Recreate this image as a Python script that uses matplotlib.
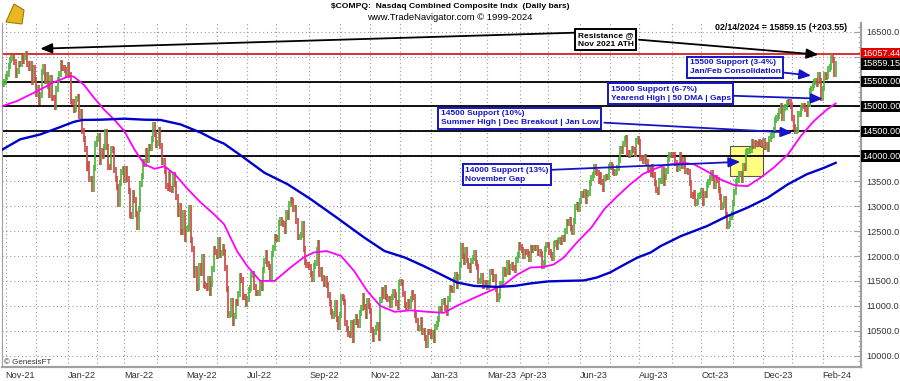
import matplotlib
matplotlib.use("Agg")
import matplotlib.pyplot as plt
from matplotlib.patches import Rectangle, Polygon
import numpy as np

plt.rcParams['font.family'] = ['Liberation Sans', 'DejaVu Sans']

# daily closes, Oct 28 2021 .. Feb 14 2024
closes_2021 = [
    15448, 15498,
    # Nov
    15595, 15650, 15812, 15940, 15971, 15982, 15886, 15623, 15704, 15860, 15853,
    15974, 15922, 15993, 16057, 15854, 15775, 15845, 15491, 15782, 15538,
    # Dec
    15254, 15381, 15085, 15225, 15686, 15786, 15517, 15630, 15413, 15237, 15566,
    15180, 15169, 14980, 15341, 15522, 15653, 15871, 15781, 15766, 15741, 15645,
]
closes_2022 = [
    # Jan
    15833, 15623, 15100, 15081, 14936, 14943, 15153, 15188, 14807, 14894,
    14507, 14341, 14155, 13769, 13856, 13540, 13542, 13353, 13771, 14240,
    # Feb
    14346, 14417, 13879, 14098, 14015, 14195, 14490, 14185, 13791, 13790,
    14139, 14124, 13716, 13548, 13381, 13038, 13474, 13695, 13751,
    # Mar
    13533, 13752, 13538, 13313, 12830, 12795, 13256, 13130, 12843, 12581, 12949, 13437,
    13615, 13894, 13838, 14109, 13923, 14191, 14169, 14354, 14620, 14442, 14221,
    # Apr
    14261, 14532, 14204, 13888, 13897, 13711, 13411, 13372, 13644, 13351,
    13332, 13619, 13453, 13175, 12839, 13005, 12491, 12489, 12872, 12335,
    # May
    12536, 12564, 12965, 12318, 12145, 11623, 11738, 11364, 11371, 11805, 11663,
    11985, 11418, 11389, 11355, 11535, 11265, 11435, 11741, 12131, 12081,
    # Jun
    11994, 12317, 12013, 12061, 12175, 12086, 11755, 11340, 10809, 10829, 11099,
    10646, 10798, 11069, 11053, 11232, 11608, 11525, 11182, 11178, 11029,
    # Jul
    11128, 11322, 11362, 11621, 11635, 11373, 11265, 11248, 11252, 11452,
    11360, 11713, 11898, 12060, 11834, 11782, 11563, 12033, 12163, 12391,
    # Aug
    12369, 12349, 12668, 12721, 12657, 12645, 12493, 12855, 12779, 13047, 13128, 13103,
    12938, 12966, 12706, 12381, 12381, 12431, 12640, 12142, 11883, 11817, 11816,
    # Sep
    11785, 11631, 11544, 11792, 11862, 12112, 12266, 11634, 11720, 11552, 11448,
    11535, 11425, 11220, 11066, 10868, 10802, 10829, 11051, 10737, 10576,
    # Oct
    10815, 11176, 11148, 11073, 10652, 10542, 10426, 10418, 10649, 10321, 10676,
    10773, 10680, 10615, 10860, 10953, 11199, 10971, 10793, 11102, 10988,
    # Nov
    10890, 10524, 10343, 10476, 10565, 10617, 10354, 11114, 11324, 11196, 11359,
    11184, 11145, 11147, 11025, 11175, 11286, 11226, 11050, 10984, 11468,
    # Dec
    11482, 11462, 11240, 11015, 10959, 11082, 11005, 11144, 11256, 11171, 10811,
    10706, 10547, 10547, 10710, 10477, 10498, 10354, 10214, 10478, 10466,
]
closes_2023 = [
    # Jan
    10386, 10459, 10305, 10570, 10636, 10743, 10932, 10931, 11079, 11096,
    10958, 10852, 11141, 11365, 11334, 11313, 11512, 11622, 11394, 11585,
    # Feb
    11816, 12201, 12007, 11888, 12114, 11910, 11790, 11718, 11892, 11960,
    12070, 11856, 11787, 11492, 11507, 11591, 11395, 11466, 11456,
    # Mar
    11379, 11463, 11689, 11676, 11531, 11577, 11338, 11139, 11189, 11429, 11434, 11718,
    11631, 11675, 11861, 11670, 11788, 11824, 11768, 11716, 11926, 12014, 12222,
    # Apr
    12190, 12126, 11996, 12088, 12084, 12032, 11930, 12167, 12124, 12158,
    12154, 12157, 12060, 12073, 12037, 11800, 11854, 12143, 12227,
    # May
    12213, 12081, 12025, 11966, 12236, 12256, 12180, 12306, 12329, 12285, 12366,
    12344, 12500, 12688, 12658, 12720, 12560, 12484, 12698, 12976, 13017, 12935,
    # Jun
    13101, 13241, 13230, 13276, 13105, 13239, 13259, 13461, 13573, 13626, 13783,
    13689, 13667, 13503, 13631, 13492, 13336, 13556, 13592, 13591, 13788,
    # Jul
    13817, 13792, 13679, 13661, 13685, 13760, 13918, 14138, 14113, 14244,
    14354, 14358, 14063, 14032, 14059, 14145, 14127, 14050, 14317, 14346,
    # Aug
    14283, 13973, 13960, 13909, 13994, 13884, 13723, 13737, 13645, 13789, 13632, 13474,
    13317, 13291, 13498, 13505, 13722, 13464, 13591, 13705, 13944, 14020, 14035,
    # Sep
    14031, 14020, 13872, 13749, 13762, 14021, 13918, 13813, 13926, 13708,
    13711, 13679, 13469, 13224, 13212, 13271, 13064, 13093, 13201, 13219,
    # Oct
    13307, 13059, 13236, 13220, 13431, 13485, 13562, 13660, 13574, 13407, 13567,
    13534, 13315, 13186, 12984, 13019, 13139, 12821, 12596, 12643, 12789, 12851,
    # Nov
    13061, 13294, 13478, 13518, 13640, 13650, 13522, 13798, 13768, 14094, 14104,
    14113, 14125, 14285, 14200, 14266, 14251, 14242, 14282, 14258, 14226,
    # Dec
    14306, 14185, 14230, 14147, 14340, 14404, 14432, 14533, 14734, 14762,
    14814, 14905, 15003, 14778, 14964, 14993, 15075, 15100, 15096, 15011,
]
closes_2024 = [
    # Jan
    14766, 14592, 14510, 14524, 14843, 14858, 14970, 15004, 15003, 14945, 14856,
    15056, 15311, 15361, 15426, 15482, 15511, 15455, 15628, 15509, 15164,
    # Feb
    15361, 15629, 15598, 15609, 15756, 15794, 15990, 15942, 15656, 15859,
]

# 50-day (magenta) and 200-day (blue) averages, read at bar positions
ma50_x = [-2, 8, 22, 33, 44, 47, 54, 61, 68, 75, 82, 89, 96, 103, 110, 117, 126,
          135, 144, 151, 160, 167, 176, 186, 197, 206, 213, 222, 232, 241, 250,
          259, 269, 280, 292, 303, 312, 324, 335, 345, 354, 363, 372, 379, 386,
          395, 405, 414, 423, 432, 441, 448, 457, 469, 476, 485, 494, 504, 513,
          522, 531, 541, 550, 559, 568, 574]
ma50_y = [15010, 15110, 15310, 15480, 15610, 15600, 15440, 15180, 14940, 14740,
          14510, 14140, 13840, 13750, 13800, 13640, 13340, 13070, 12840, 12640,
          12100, 11800, 11500, 11500, 11770, 11970, 12070, 12100, 12000, 11700,
          11300, 11000, 10880, 10910, 10880, 10860, 11000, 11160, 11300, 11430,
          11630, 11770, 11780, 11830, 11970, 12270, 12570, 12940, 13200, 13440,
          13650, 13740, 13830, 13870, 13840, 13700, 13540, 13420, 13400, 13570,
          13770, 14040, 14410, 14710, 14940, 15060]
ma200_x = [-2, 10, 24, 38, 47, 53, 66, 82, 96, 107, 121, 135, 144, 151, 163, 179,
           195, 211, 229, 248, 262, 276, 289, 301, 312, 324, 340, 352, 363, 375,
           386, 400, 409, 418, 428, 437, 446, 453, 467, 485, 499, 513, 527, 541,
           554, 566, 574]
ma200_y = [14140, 14340, 14440, 14590, 14690, 14730, 14735, 14755, 14735, 14730,
           14640, 14475, 14340, 14255, 14010, 13670, 13440, 13140, 12770, 12370,
           12100, 11970, 11800, 11630, 11470, 11400, 11380, 11400, 11450, 11490,
           11500, 11510, 11570, 11670, 11830, 11970, 12070, 12200, 12400, 12600,
           12800, 12970, 13170, 13440, 13640, 13770, 13870]

# first trading day of each month (bar index), and the labelled ones
month_starts = [0, 21, 43, 63, 82, 105, 125, 146, 167, 187, 210, 231, 252, 273,
                294, 314, 333, 356, 375, 397, 418, 438, 461, 481, 503, 524, 544, 565]
tick_pos = [0, 43, 82, 125, 167, 210, 252, 294, 333, 356, 397, 438, 481, 524, 565]
tick_labels = ['Nov-21', 'Jan-22', 'Mar-22', 'May-22', 'Jul-22', 'Sep-22', 'Nov-22',
               'Jan-23', 'Mar-23', 'Apr-23', 'Jun-23', 'Aug-23', 'Oct-23', 'Dec-23', 'Feb-24']

support_levels = [15500, 15000, 14500, 14000]
ath_level = 16057.44
last_close = 15859.15

closes = np.array(closes_2021 + closes_2022 + closes_2023 + closes_2024, dtype=float)
bar_x = np.arange(len(closes)) - 2
prev = np.concatenate([[closes[0]], closes[:-1]])
lows = np.minimum(prev, closes) - 60
highs = np.maximum(prev, closes) + 60
up = closes >= prev

fig = plt.figure(figsize=(9, 3.81), dpi=100)
ax = fig.add_axes([2 / 900, 14 / 381, 859 / 900, 344 / 381])
ax.set_xlim(-2.5, 591.5)
ax.set_ylim(9773, 16675)

# grid
grid_kw = dict(color='#9a9a9a', lw=0.8, linestyle=(0, (1, 2.5)), zorder=0)
for m in month_starts:
    ax.axvline(m, **grid_kw)
for v in range(10000, 16501, 500):
    ax.axhline(v, **grid_kw)

# yellow gap box
ax.add_patch(Rectangle((500.7, 13610), 22.8, 605, facecolor='#ffff80',
                       edgecolor='#555555', lw=0.8, zorder=1))

# support / resistance lines
for lvl in support_levels:
    ax.axhline(lvl, color='black', lw=1.3, zorder=2)
ax.axhline(ath_level, color='#d42020', lw=1.3, zorder=2)

# price bars
ax.vlines(bar_x[up], lows[up], highs[up], color='#4fb540', lw=1.25, zorder=3)
ax.vlines(bar_x[~up], lows[~up], highs[~up], color='#d04a4a', lw=1.25, zorder=3)

# moving averages
ax.plot(ma50_x, ma50_y, color='#ff00ff', lw=1.3, zorder=4)
ax.plot(ma200_x, ma200_y, color='#0000cc', lw=1.7, zorder=4)

# annotation boxes
blue = '#1414c8'
notes = [
    (395.6, 16340, 'Resistance @\nNov 2021 ATH', 'black'),
    (473, 15787, '15500 Support (3-4%)\nJan/Feb Consolidation', blue),
    (418.4, 15255, '15000 Support (6-7%)\nYearend High | 50 DMA | Gaps', blue),
    (300.8, 14763, '14500 Support (10%)\nSummer High | Dec Breakout | Jan Low', blue),
    (318, 13628, '14000 Support (13%)\nNovember Gap', blue),
]
for x, y, txt, col in notes:
    ax.text(x, y, txt, ha='left', va='center', fontsize=6, fontweight='bold',
            color=col, linespacing=1.35, zorder=6,
            bbox=dict(boxstyle='square,pad=0.3', facecolor='white', edgecolor=col, lw=1.4))

arrows = [
    ((393, 16480), (24, 16160), 'black'),
    ((438, 16340), (562, 16040), 'black'),
    ((538, 15680), (557, 15620), blue),
    ((503, 15215), (565, 15155), blue),
    ((414, 14675), (544, 14475), blue),
    ((378, 13730), (508, 13890), blue),
]
for start, end, col in arrows:
    ax.annotate('', xy=end, xytext=start, zorder=5,
                arrowprops=dict(arrowstyle='-|>,head_length=0.7,head_width=0.3',
                                color=col, lw=1.3, shrinkA=0, shrinkB=0, mutation_scale=10))

# axes styling
ax.spines['top'].set_visible(False)
for side in ['left', 'bottom', 'right']:
    ax.spines[side].set_color('#a0a0a0')
ax.spines['right'].set_linewidth(1.6)
ax.spines['bottom'].set_linewidth(1.6)

ax.set_xticks(tick_pos)
ax.set_xticklabels(tick_labels, ha='left', fontsize=6.6, color='#333333')
ax.tick_params(axis='x', length=0, pad=3)

yt = list(range(10000, 16501, 500))
ax.yaxis.tick_right()
ax.set_yticks(yt)
ax.set_yticklabels(['%.1f' % v if (v < 14000 or v == 16500) else '' for v in yt],
                   fontsize=6.6, color='#333333')
ax.set_yticks(range(9800, 16700, 100), minor=True)
ax.tick_params(axis='y', which='major', direction='in', length=5, color='#a0a0a0', pad=4)
ax.tick_params(axis='y', which='minor', direction='in', length=2.5, color='#a0a0a0')

ytrans = ax.get_yaxis_transform()
ax.text(1.002, ath_level, '%.2f' % ath_level, transform=ytrans, fontsize=6.6, color='white',
        va='center', ha='left', clip_on=False,
        bbox=dict(boxstyle='square,pad=0.15', facecolor='#e00000', edgecolor='none'))
for v in [last_close] + support_levels:
    ax.text(1.002, v, '%.2f' % v, transform=ytrans, fontsize=6.6, color='white',
            va='center', ha='left', clip_on=False,
            bbox=dict(boxstyle='square,pad=0.15', facecolor='black', edgecolor='none'))

# header texts
fig.text(0.5, 1 - 7 / 381, '$COMPQ:  Nasdaq Combined Composite Indx  (Daily bars)',
         ha='center', va='center', fontsize=6.1, fontweight='bold')
fig.text(0.5, 1 - 18 / 381, 'www.TradeNavigator.com \u00a9 1999-2024',
         ha='center', va='center', fontsize=6.8)
fig.text(847 / 900, 1 - 28 / 381, '02/14/2024 = 15859.15 (+203.55)',
         ha='right', va='center', fontsize=6.4, fontweight='bold')
fig.text(4 / 900, 1 - 362 / 381, '\u00a9 GenesisFT', ha='left', va='center', fontsize=5.8,
         color='#333333')

# little gold logo
fig.patches.append(Polygon([(6 / 900, 1 - 22 / 381), (14 / 900, 1 - 4 / 381),
                            (24 / 900, 1 - 10 / 381), (22 / 900, 1 - 24 / 381)],
                           closed=True, transform=fig.transFigure,
                           facecolor='#e8b820', edgecolor='#a07810', lw=0.8))

fig.savefig('out.png', dpi=100)
